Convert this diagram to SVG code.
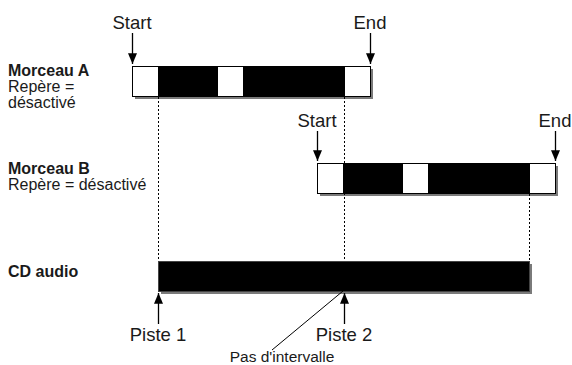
<svg xmlns="http://www.w3.org/2000/svg" width="572" height="365" viewBox="0 0 572 365">
<style>
.lbl{font-family:"Liberation Sans",Arial,sans-serif;font-size:16px;fill:#1a1a1a}
.b{font-weight:bold}
.big{font-family:"Liberation Sans",Arial,sans-serif;font-size:18.5px;fill:#1a1a1a;text-anchor:middle}
.sm{font-family:"Liberation Sans",Arial,sans-serif;font-size:15.5px;fill:#1a1a1a;text-anchor:middle}
.w{fill:#fff;stroke:#000;stroke-width:1}
.k{fill:#000;stroke:#000;stroke-width:1}
.sh{fill:#7a7a7a}
.dot{stroke:#000;stroke-width:1;stroke-dasharray:2 2;fill:none}
.arr{stroke:#000;stroke-width:1.3;fill:none}
</style>
<defs>
<marker id="ah" viewBox="0 0 12 10" refX="12" refY="5" markerWidth="12" markerHeight="9" markerUnits="userSpaceOnUse" orient="auto">
<path d="M0,0 L12,5 L0,10 z" fill="#000"/>
</marker>
</defs>
<g id="label-a">
<text class="lbl b" x="8" y="76">Morceau A</text>
<text class="lbl" x="8" y="92">Repère =</text>
<text class="lbl" x="8" y="108">désactivé</text>
</g>
<g id="label-b">
<text class="lbl b" x="8" y="174">Morceau B</text>
<text class="lbl" x="8" y="190">Repère = désactivé</text>
</g>
<g id="label-cd">
<text class="lbl b" x="8" y="277">CD audio</text>
</g>
<g id="track-a">
<rect class="sh" x="135" y="69" width="238" height="30"/>
<rect class="w" x="132.5" y="66.5" width="26" height="30"/>
<rect class="k" x="158.5" y="66.5" width="59" height="30"/>
<rect class="w" x="217.5" y="66.5" width="26" height="30"/>
<rect class="k" x="243.5" y="66.5" width="101" height="30"/>
<rect class="w" x="344.5" y="66.5" width="26" height="30"/>
</g>
<g id="track-b">
<rect class="sh" x="320" y="166" width="238" height="30"/>
<rect class="w" x="317.5" y="163.5" width="26" height="30"/>
<rect class="k" x="343.5" y="163.5" width="59" height="30"/>
<rect class="w" x="402.5" y="163.5" width="26" height="30"/>
<rect class="k" x="428.5" y="163.5" width="101" height="30"/>
<rect class="w" x="529.5" y="163.5" width="26" height="30"/>
</g>
<g id="track-cd">
<rect class="sh" x="161" y="264" width="371" height="30"/>
<rect x="158.5" y="261.5" width="371" height="30" fill="#000" stroke="#444" stroke-width="1"/>
</g>
<g id="markers">
<text class="big" x="132" y="29">Start</text>
<text class="big" x="370" y="29">End</text>
<text class="big" x="317" y="127">Start</text>
<text class="big" x="555" y="127">End</text>
<text class="big" x="158" y="341">Piste 1</text>
<text class="big" x="344" y="341">Piste 2</text>
<text class="sm" x="282" y="362">Pas d'intervalle</text>
</g>
<g id="connectors">
<line class="dot" x1="158.5" y1="97" x2="158.5" y2="261"/>
<line class="dot" x1="344.5" y1="97" x2="344.5" y2="261"/>
<line class="dot" x1="529.5" y1="194" x2="529.5" y2="261"/>
<line class="arr" x1="132.5" y1="33" x2="132.5" y2="64" marker-end="url(#ah)"/>
<line class="arr" x1="370.5" y1="33" x2="370.5" y2="64" marker-end="url(#ah)"/>
<line class="arr" x1="317.5" y1="131" x2="317.5" y2="161" marker-end="url(#ah)"/>
<line class="arr" x1="555.5" y1="131" x2="555.5" y2="161" marker-end="url(#ah)"/>
<line class="arr" x1="158.5" y1="324" x2="158.5" y2="293" marker-end="url(#ah)"/>
<line class="arr" x1="344.5" y1="324" x2="344.5" y2="293" marker-end="url(#ah)"/>
<line stroke="#000" stroke-width="1" x1="272" y1="350" x2="343" y2="291"/>
</g>
</svg>
